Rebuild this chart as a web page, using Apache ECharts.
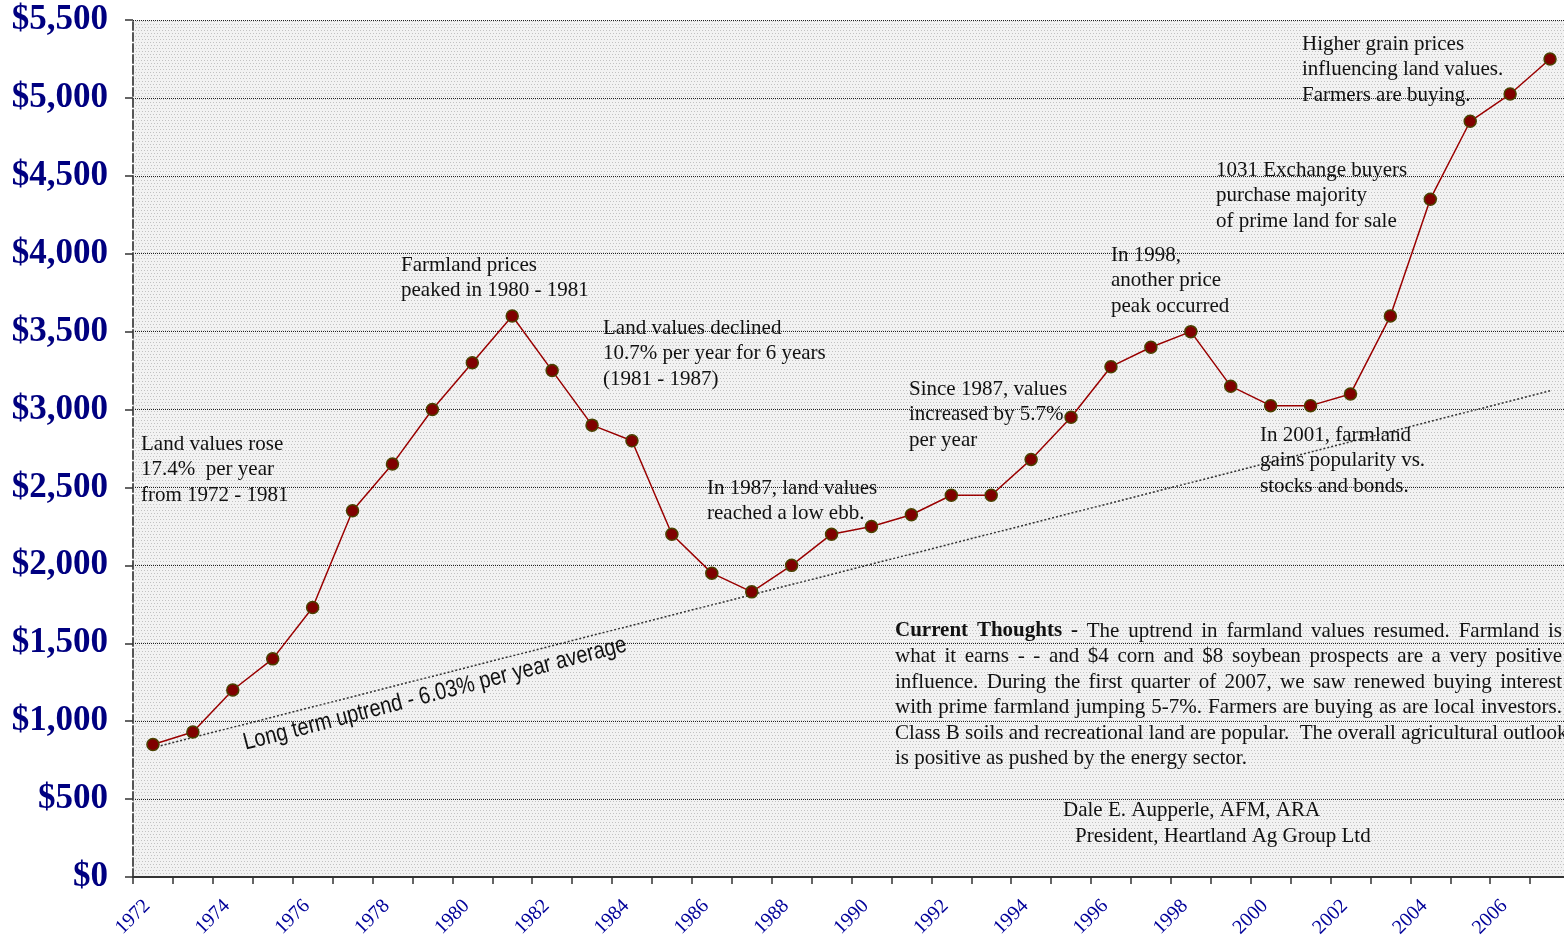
<!DOCTYPE html>
<html>
<head>
<meta charset="utf-8">
<script src="https://cdn.jsdelivr.net/npm/echarts@6/dist/echarts.min.js"></script>
<style>
  html, body { margin: 0; padding: 0; background: #fff; }
  #chart { width: 1564px; height: 936px; }
</style>
</head>
<body>
<div id="chart"></div>
<script>
// farmland value per acre, 1972 - 2007
const years = [1972, 1973, 1974, 1975, 1976, 1977, 1978, 1979, 1980, 1981, 1982, 1983,
  1984, 1985, 1986, 1987, 1988, 1989, 1990, 1991, 1992, 1993, 1994, 1995,
  1996, 1997, 1998, 1999, 2000, 2001, 2002, 2003, 2004, 2005, 2006, 2007];
const values = [850, 930, 1200, 1400, 1730, 2350, 2650, 3000, 3300, 3600, 3250, 2900,
  2800, 2200, 1950, 1830, 2000, 2200, 2250, 2325, 2450, 2450, 2680, 2950,
  3275, 3400, 3500, 3150, 3025, 3025, 3100, 3600, 4350, 4850, 5025, 5250];

// long term trend line end points
const trendYears = [1972, 2007];
const trendValues = [830, 3120];

const yMin = 0;
const yMax = 5500;
const yStep = 500;

const SERIF = '"Liberation Serif", "Times New Roman", serif';
const REG = '21px ' + SERIF;
const BOLD = 'bold 21px ' + SERIF;

const notes = [
  { lines: ['Land values rose', '17.4%  per year', 'from 1972 - 1981'], x: 141, y: 444 },
  { lines: ['Farmland prices', 'peaked in 1980 - 1981'], x: 401, y: 265 },
  { lines: ['Land values declined', '10.7% per year for 6 years', '(1981 - 1987)'], x: 603, y: 328 },
  { lines: ['In 1987, land values', 'reached a low ebb.'], x: 707, y: 488 },
  { lines: ['Since 1987, values', 'increased by 5.7%', 'per year'], x: 909, y: 389 },
  { lines: ['In 1998,', 'another price', 'peak occurred'], x: 1111, y: 255 },
  { lines: ['1031 Exchange buyers', 'purchase majority', 'of prime land for sale'], x: 1216, y: 170 },
  { lines: ['Higher grain prices', 'influencing land values.', 'Farmers are buying.'], x: 1302, y: 44 },
  { lines: ['In 2001, farmland', 'gains popularity vs.', 'stocks and bonds.'], x: 1260, y: 435 },
  { lines: ['Dale E. Aupperle, AFM, ARA'], x: 1063, y: 810 },
  { lines: ['President, Heartland Ag Group Ltd'], x: 1075, y: 836 }
];

const thoughts = [
  'Current Thoughts - The uptrend in farmland values resumed.  Farmland is',
  'what it earns - - and $4 corn and $8 soybean prospects are a very positive',
  'influence.  During the first quarter of 2007, we saw renewed buying interest',
  'with prime farmland jumping 5-7%.  Farmers are buying as are local investors.',
  'Class B soils and recreational land are popular.  The overall agricultural outlook',
  'is positive as pushed by the energy sector.'
];
const justified = [true, true, true, true, false, false];
const boldWords = 3;
const lineH = 25.5;

function makePattern() {
  const tile = document.createElement('canvas');
  tile.width = 6;
  tile.height = 6;
  const c = tile.getContext('2d');
  c.fillStyle = '#f2f2f2';
  c.fillRect(0, 0, 6, 6);
  c.fillStyle = '#c2c2c2';
  c.fillRect(0, 0, 1, 1);
  c.fillRect(3, 0, 1, 1);
  c.fillRect(1, 3, 1, 1);
  c.fillRect(4, 3, 1, 1);
  return { image: tile, repeat: 'repeat' };
}

function noteElements() {
  return notes.map(n => ({
    type: 'text',
    x: n.x,
    y: n.y - lineH / 2,
    z: 10,
    style: {
      text: n.lines.join('\n'),
      font: REG,
      fill: '#111',
      lineHeight: lineH,
      verticalAlign: 'top'
    }
  }));
}

function thoughtElements() {
  const left = 895;
  const width = 667;
  const top = 631;
  const ctx = document.createElement('canvas').getContext('2d');
  const els = [];
  thoughts.forEach((line, i) => {
    const y = top + i * lineH;
    if (!justified[i]) {
      els.push({ type: 'text', x: left, y, z: 10,
        style: { text: line, font: REG, fill: '#111', verticalAlign: 'middle' } });
      return;
    }
    const words = line.split(/\s+/);
    const fonts = words.map((w, j) => (i === 0 && j < boldWords) ? BOLD : REG);
    const widths = words.map((w, j) => { ctx.font = fonts[j]; return ctx.measureText(w).width; });
    const total = widths.reduce((a, b) => a + b, 0);
    const gap = (width - total) / (words.length - 1);
    let x = left;
    words.forEach((w, j) => {
      els.push({ type: 'text', x, y, z: 10,
        style: { text: w, font: fonts[j], fill: '#111', verticalAlign: 'middle' } });
      x += widths[j] + gap;
    });
  });
  return els;
}

const chart = echarts.init(document.getElementById('chart'));

const option = {
  animation: false,
  grid: {
    left: 133,
    right: -6,
    top: 20,
    bottom: 59,
    outerBoundsMode: 'none',
    containLabel: false,
    show: true,
    borderWidth: 0,
    backgroundColor: makePattern()
  },
  xAxis: {
    type: 'value',
    min: years[0],
    max: years[years.length - 1] + 1,
    interval: 1,
    axisLine: { lineStyle: { color: '#333', width: 2 } },
    axisTick: { show: true, length: 7, lineStyle: { color: '#333', width: 1.5 } },
    splitLine: { show: false },
    axisLabel: {
      rotate: 45,
      align: 'center',
      verticalAlign: 'middle',
      margin: 40,
      color: '#000099',
      fontFamily: SERIF,
      fontSize: 20,
      showMaxLabel: false,
      formatter: v => (v % 2 === 0 && v < 2008) ? String(v) : ''
    }
  },
  yAxis: {
    type: 'value',
    min: yMin,
    max: yMax,
    interval: yStep,
    axisLine: { show: true, lineStyle: { color: '#555', width: 2, type: [8, 3] } },
    axisTick: { show: true, length: 8, lineStyle: { color: '#333', width: 1.5 } },
    splitLine: { show: true, lineStyle: { color: '#222', width: 1, type: [1, 1] } },
    axisLabel: {
      margin: 25,
      color: '#000080',
      fontFamily: SERIF,
      fontWeight: 'bold',
      fontSize: 35,
      formatter: v => '$' + v.toLocaleString('en-US')
    }
  },
  graphic: [
    ...noteElements(),
    ...thoughtElements(),
    {
      type: 'text',
      x: 435,
      y: 694,
      z: 10,
      rotation: 14.5 * Math.PI / 180,
      scaleY: 1.2,
      style: {
        text: 'Long term uptrend - 6.03% per year average',
        font: '20px "Liberation Sans", Arial, sans-serif',
        fill: '#111',
        align: 'center',
        verticalAlign: 'middle'
      }
    }
  ],
  series: [
    {
      name: 'Trend',
      type: 'line',
      data: trendYears.map((y, i) => [y + 0.5, trendValues[i]]),
      symbol: 'none',
      silent: true,
      z: 1,
      lineStyle: { color: '#333', width: 1.5, type: [2, 2] }
    },
    {
      name: 'Value',
      type: 'line',
      data: years.map((y, i) => [y + 0.5, values[i]]),
      symbol: 'circle',
      symbolSize: 12,
      z: 3,
      itemStyle: { color: '#800000', borderColor: '#4a4000', borderWidth: 1.5 },
      lineStyle: { color: '#990000', width: 1.5 }
    }
  ]
};

chart.setOption(option);
</script>
</body>
</html>
